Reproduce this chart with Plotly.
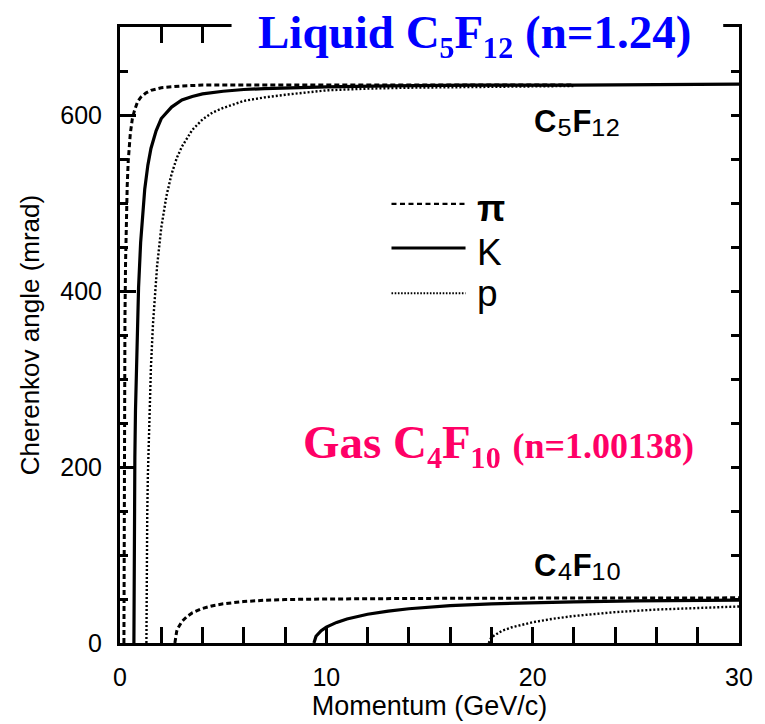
import plotly.graph_objects as go

# ---------------- data ----------------
# Liquid C5F12 radiator (n = 1.24)
p_pi_liq = [0.19, 0.195, 0.2, 0.21, 0.22, 0.24, 0.27, 0.3, 0.35, 0.4, 0.45, 0.5, 0.6, 0.7,
            0.85, 1.0, 1.25, 1.5, 2.0, 2.5, 3.0, 4.0, 5.0, 7.0, 10.0, 15.0, 22.0]
th_pi_liq = [0, 128, 182, 252, 301, 368, 433, 474, 520, 548, 566, 579, 596, 605,
             615, 620, 625, 628, 631, 632, 633, 634, 634, 634, 634, 634, 634]

p_k_liq = [0.674, 0.68, 0.69, 0.70, 0.72, 0.75, 0.8, 0.85, 0.9, 1.0, 1.1, 1.2, 1.35, 1.5,
           1.75, 2.0, 2.5, 3.0, 3.5, 4.0, 5.0, 6.0, 7.0, 8.5, 10.0, 13.0, 17.0, 22.0, 30.0]
th_k_liq = [0, 83, 129, 162, 211, 264, 325, 369, 404, 455, 490, 516, 543, 562,
            582, 596, 609, 617, 621, 624, 627, 629, 630, 631, 632, 633, 634, 634, 635]

p_p_liq = [1.28, 1.29, 1.3, 1.32, 1.35, 1.4, 1.45, 1.5, 1.6, 1.7, 1.8, 2.0, 2.25, 2.5,
           2.75, 3.0, 3.5, 4.0, 4.5, 5.0, 6.0, 7.0, 8.0, 10.0, 12.0, 14.0, 18.0, 22.0]
th_p_liq = [0, 75, 104, 146, 190, 242, 282, 314, 363, 400, 429, 472, 508, 533,
            551, 564, 583, 595, 603, 608, 616, 620, 623, 628, 630, 631, 632, 633]

# Gas C4F10 radiator (n = 1.00138)
p_pi_gas = [2.66, 2.7, 2.75, 2.8, 2.9, 3.0, 3.25, 3.5, 4.0, 4.5, 5.0, 6.0, 7.0, 8.0,
            10.0, 12.0, 15.0, 20.0, 25.0, 30.0]
th_pi_gas = [0, 9.3, 13.5, 16.6, 21.0, 24.4, 30.2, 34.2, 39.3, 42.4, 44.5, 47.1, 48.6, 49.4,
             50.0, 50.4, 50.7, 51.0, 51.2, 51.3]

p_k_gas = [9.40, 9.5, 9.75, 10.0, 10.5, 11.0, 12.0, 13.0, 14.0, 16.0, 18.0, 20.0, 22.0, 25.0, 30.0]
th_k_gas = [0, 7.7, 14.0, 18.0, 23.4, 27.3, 32.7, 36.3, 38.9, 42.5, 44.5, 45.9, 46.8, 47.8, 48.8]

p_p_gas = [17.87, 18.0, 18.5, 19.0, 20.0, 21.0, 22.0, 24.0, 26.0, 28.0, 30.0]
th_p_gas = [0, 6.5, 13.7, 17.9, 23.6, 27.6, 30.7, 35.1, 38.0, 40.0, 41.5]

x_range = [0, 30]
y_range = [0, 700]
x_major_ticks = [0, 10, 20, 30]
y_major_ticks = [0, 200, 400, 600]
x_minor_step = 2
y_minor_step = 50

legend_names = ["<b>\u03c0</b>", "K", "p"]


def sub(digits, size):
    """Unicode subscript digits, enlarged to the reference's subscript size."""
    table = str.maketrans("0123456789", "\u2080\u2081\u2082\u2083\u2084\u2085\u2086\u2087\u2088\u2089")
    return "<span style='font-size:%dpx'>%s</span>" % (size, digits.translate(table))


liquid_label = "<b>C</b>" + sub("5", 40) + "<b>F</b>" + sub("12", 40)
gas_label = "<b>C</b>" + sub("4", 40) + "<b>F</b>" + sub("10", 40)
liquid_title = "<b>Liquid C" + sub("5", 50) + "F" + sub("12", 50) + " (n=1.24)</b>"
gas_title = ("<b>Gas C" + sub("4", 50) + "F" + sub("10", 50)
             + " <span style='font-size:36px'>(n=1.00138)</span></b>")

# ---------------- styles ----------------
FONT = "Liberation Sans"
styles = {
    "pi": dict(color="black", width=3, dash="5px,3px"),
    "k": dict(color="black", width=3.2),
    "p": dict(color="black", width=2.4, dash="2px,2px"),
}
legend_styles = {
    "pi": dict(color="black", width=2.4, dash="5px,3.5px"),
    "k": dict(color="black", width=3),
    "p": dict(color="black", width=1.8, dash="1.6px,1.6px"),
}

fig = go.Figure()
series = [
    (p_pi_liq, th_pi_liq, "pi"), (p_k_liq, th_k_liq, "k"), (p_p_liq, th_p_liq, "p"),
    (p_pi_gas, th_pi_gas, "pi"), (p_k_gas, th_k_gas, "k"), (p_p_gas, th_p_gas, "p"),
]
for xs, ys, key in series:
    fig.add_trace(go.Scatter(x=xs, y=ys, mode="lines", line=styles[key],
                             showlegend=False, hoverinfo="skip"))

# invisible trace to activate the right-hand tick axis
fig.add_trace(go.Scatter(x=[None], y=[None], xaxis="x", yaxis="y2",
                         showlegend=False, hoverinfo="skip"))

L, R, T, B = 120, 18, 27, 70
W, H = 765, 724
pw, ph = W - L - R, H - T - B

def px_x(px):
    return (px - L) / pw

def px_y(py):
    return (H - B - py) / ph

axis_common = dict(showgrid=False, zeroline=False, linecolor="black", linewidth=3,
                   ticks="inside", tickcolor="black")

fig.update_layout(
    width=W, height=H,
    margin=dict(l=L, r=R, t=T, b=B, pad=0),
    paper_bgcolor="white", plot_bgcolor="white",
    font=dict(family=FONT, color="black"),
    xaxis=dict(range=x_range, tickvals=x_major_ticks, ticklen=16, tickwidth=2.5,
               showline=True, mirror="allticks",
               minor=dict(dtick=x_minor_step, tick0=0, ticklen=8, tickwidth=2.5, ticks="inside",
                          tickcolor="black"),
               tickfont=dict(size=25, family=FONT), ticklabelstandoff=10,
               title=dict(text="Momentum (GeV/c)", font=dict(size=27, family=FONT), standoff=2),
               **axis_common),
    yaxis=dict(range=y_range, tickvals=y_major_ticks, ticklen=16, tickwidth=2.5,
               showline=True, mirror=True,
               minor=dict(dtick=y_minor_step, tick0=0, ticklen=8, tickwidth=2.5, ticks="inside",
                          tickcolor="black"),
               tickfont=dict(size=25, family=FONT), ticklabelstandoff=10,
               title=dict(text="Cherenkov angle (mrad)", font=dict(size=26, family=FONT), standoff=14),
               **axis_common),
    yaxis2=dict(range=y_range, overlaying="y", side="right", anchor="x",
                dtick=y_minor_step, tick0=0, ticks="inside", ticklen=8, tickwidth=2.5,
                tickcolor="black", showticklabels=False, showgrid=False,
                zeroline=False, showline=False),
)

shapes = []
# gap in the top frame behind the title
shapes.append(dict(type="rect", xref="paper", yref="paper", x0=px_x(233), x1=px_x(731),
                   ysizemode="pixel", yanchor=1, y0=-19, y1=6,
                   fillcolor="white", line=dict(width=0), layer="above"))
# legend samples
leg_y = [207, 252, 298]
for key, yy in zip(["pi", "k", "p"], leg_y):
    shapes.append(dict(type="line", xref="paper", yref="paper", x0=px_x(395), x1=px_x(470),
                       y0=px_y(yy), y1=px_y(yy), line=legend_styles[key], layer="above"))
fig.update_layout(shapes=shapes)

ann = []
for name, yy in zip(legend_names, [212, 257, 298]):
    ann.append(dict(text=name, xref="paper", yref="paper", x=px_x(480), y=px_y(yy),
                    xanchor="left", yanchor="middle", showarrow=False,
                    font=dict(size=37, family=FONT, color="black")))
ann.append(dict(text=liquid_label, xref="paper", yref="paper",
                x=px_x(537), y=px_y(120), xanchor="left", yanchor="middle", showarrow=False,
                font=dict(size=31, family=FONT, color="black")))
ann.append(dict(text=gas_label, xref="paper", yref="paper",
                x=px_x(537), y=px_y(572), xanchor="left", yanchor="middle", showarrow=False,
                font=dict(size=31, family=FONT, color="black")))
ann.append(dict(text=liquid_title, xref="paper", yref="paper",
                x=px_x(258), y=px_y(31), xanchor="left", yanchor="middle", showarrow=False,
                font=dict(size=47, family="Liberation Serif", color="#0000FF")))
ann.append(dict(text=gas_title, xref="paper", yref="paper",
                x=px_x(303), y=px_y(448), xanchor="left", yanchor="middle", showarrow=False,
                font=dict(size=47, family="Liberation Serif", color="#FF0066")))
fig.update_layout(annotations=ann)

fig.write_html("out.html")
